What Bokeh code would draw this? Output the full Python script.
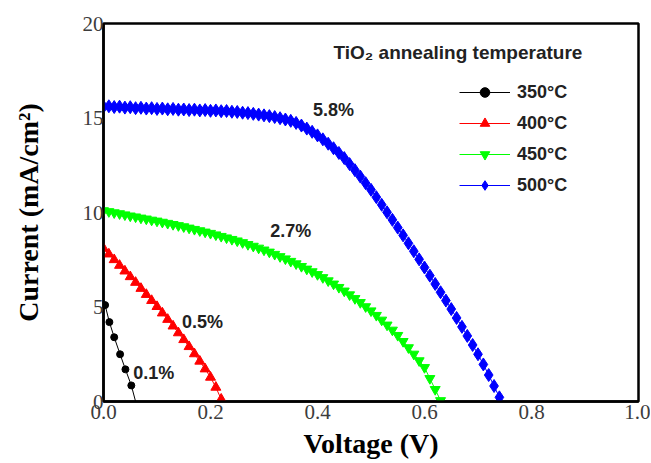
from bokeh.plotting import figure
from bokeh.models import (Range1d, FixedTicker, PrintfTickFormatter, Legend,
                          LegendItem, Label, ColumnDataSource)
from bokeh.embed import file_html
from bokeh.resources import INLINE

# ---------------- data ----------------
v_350 = [0.003, 0.011, 0.020, 0.031, 0.041, 0.052, 0.060]
j_350 = [5.10, 4.20, 3.40, 2.50, 1.70, 0.85, 0.00]

v_400 = [0.00, 0.01, 0.02, 0.03, 0.04, 0.05, 0.06, 0.07, 0.08, 0.09, 0.10,
         0.11, 0.12, 0.13, 0.14, 0.15, 0.16, 0.17, 0.18, 0.19, 0.20, 0.21, 0.22]
j_400 = [8.10, 7.80, 7.50, 7.20, 6.90, 6.60, 6.30, 5.98, 5.66, 5.34, 5.02,
         4.68, 4.34, 3.99, 3.63, 3.27, 2.90, 2.52, 2.13, 1.72, 1.28, 0.75, 0.12]

v_450 = [0.00, 0.01, 0.02, 0.03, 0.04, 0.05, 0.06, 0.07, 0.08, 0.09, 0.10,
         0.11, 0.12, 0.13, 0.14, 0.15, 0.16, 0.17, 0.18, 0.19, 0.20,
         0.21, 0.22, 0.23, 0.24, 0.25, 0.26, 0.27, 0.28, 0.29, 0.30,
         0.31, 0.32, 0.33, 0.34, 0.35, 0.36, 0.37, 0.38, 0.39, 0.40,
         0.41, 0.42, 0.43, 0.44, 0.45, 0.46, 0.47, 0.48, 0.49, 0.50,
         0.51, 0.52, 0.53, 0.54, 0.55, 0.56, 0.57, 0.58, 0.59, 0.60,
         0.61, 0.62, 0.63]
j_450 = [10.10, 10.05, 9.99, 9.94, 9.88, 9.82, 9.77, 9.71, 9.66, 9.60, 9.55,
         9.49, 9.43, 9.37, 9.31, 9.25, 9.18, 9.11, 9.04, 8.97, 8.90,
         8.82, 8.74, 8.66, 8.58, 8.50, 8.41, 8.31, 8.22, 8.12, 8.02,
         7.91, 7.79, 7.67, 7.55, 7.42, 7.29, 7.15, 7.01, 6.87, 6.72,
         6.56, 6.39, 6.22, 6.04, 5.85, 5.65, 5.45, 5.24, 5.02, 4.80,
         4.56, 4.31, 4.05, 3.78, 3.50, 3.18, 2.85, 2.51, 2.16, 1.80,
         1.22, 0.64, 0.05]

v_500 = [0.00, 0.01, 0.02, 0.03, 0.04, 0.05, 0.06, 0.07, 0.08, 0.09, 0.10,
         0.11, 0.12, 0.13, 0.14, 0.15, 0.16, 0.17, 0.18, 0.19, 0.20,
         0.21, 0.22, 0.23, 0.24, 0.25, 0.26, 0.27, 0.28, 0.29, 0.30,
         0.31, 0.32, 0.33, 0.34, 0.35, 0.36, 0.37, 0.38, 0.39, 0.40,
         0.41, 0.42, 0.43, 0.44, 0.45, 0.46, 0.47, 0.48, 0.49, 0.50,
         0.51, 0.52, 0.53, 0.54, 0.55, 0.56, 0.57, 0.58, 0.59, 0.60,
         0.61, 0.62, 0.63, 0.64, 0.65, 0.66, 0.67, 0.68, 0.69, 0.70,
         0.71, 0.72, 0.73, 0.74]
j_500 = [15.60, 15.62, 15.58, 15.60, 15.55, 15.57, 15.52, 15.54, 15.50, 15.52, 15.48,
         15.50, 15.46, 15.48, 15.44, 15.45, 15.42, 15.44, 15.40, 15.42, 15.38,
         15.40, 15.36, 15.37, 15.33, 15.32, 15.28, 15.26, 15.22, 15.18, 15.14,
         15.10, 15.05, 14.99, 14.92, 14.85, 14.74, 14.60, 14.44, 14.27, 14.08,
         13.87, 13.64, 13.40, 13.15, 12.88, 12.56, 12.24, 11.90, 11.55, 11.20,
         10.81, 10.41, 10.01, 9.61, 9.20, 8.79, 8.37, 7.95, 7.52, 7.09,
         6.66, 6.22, 5.78, 5.34, 4.89, 4.42, 3.95, 3.47, 2.99, 2.50,
         1.96, 1.40, 0.82, 0.22]

series_labels = ["350°C", "400°C", "450°C", "500°C"]
efficiency_labels = ["0.1%", "0.5%", "2.7%", "5.8%"]
efficiency_x = [0.094, 0.185, 0.35, 0.43]
efficiency_y = [1.5, 4.2, 9.0, 15.4]
x_ticks = [0.0, 0.2, 0.4, 0.6, 0.8, 1.0]
y_ticks = [0, 5, 10, 15, 20]
legend_title = "TiO₂ annealing temperature"

# ---------------- figure ----------------
p = figure(width=650, height=462, output_backend="svg", toolbar_location=None,
           x_range=Range1d(0, 1.0), y_range=Range1d(0, 20),
           min_border_left=103, min_border_top=23, min_border_right=12,
           min_border_bottom=61)
p.grid.visible = False
p.outline_line_color = "black"
p.outline_line_width = 2.5
p.background_fill_color = "white"
p.border_fill_color = "white"

for ax in (p.xaxis[0], p.yaxis[0]):
    ax.axis_line_color = "black"
    ax.axis_line_width = 2.5
    ax.major_tick_line_color = None
    ax.minor_tick_line_color = None
    ax.major_tick_out = 0
    ax.major_tick_in = 0
    ax.major_label_text_font = "Liberation Serif"
    ax.major_label_text_font_size = "21px"
    ax.major_label_text_color = "#3c3c3c"
    ax.axis_label_text_font = "Liberation Serif"
    ax.axis_label_text_font_style = "bold"
    ax.axis_label_text_font_size = "28px"
    ax.axis_label_text_color = "black"

p.xaxis[0].ticker = FixedTicker(ticks=x_ticks)
p.xaxis[0].formatter = PrintfTickFormatter(format="%.1f")
p.yaxis[0].ticker = FixedTicker(ticks=y_ticks)
p.xaxis[0].axis_label = "Voltage (V)"
p.yaxis[0].axis_label = "Current (mA/cm²)"
p.xaxis[0].major_label_standoff = 3
p.yaxis[0].major_label_standoff = 0
p.xaxis[0].axis_label_standoff = 6
p.yaxis[0].axis_label_standoff = 36

# ---------------- series ----------------
s350 = ColumnDataSource(dict(v=v_350, j=j_350))
s350m = ColumnDataSource(dict(v=v_350[:-1], j=j_350[:-1]))
s400 = ColumnDataSource(dict(v=v_400, j=j_400))
s450 = ColumnDataSource(dict(v=v_450, j=j_450))
s500 = ColumnDataSource(dict(v=v_500, j=j_500))

l1 = p.line("v", "j", source=s350, line_color="black", line_width=1)
m1 = p.scatter("v", "j", source=s350m, marker="circle", size=7,
               fill_color="black", line_color="black")
l2 = p.line("v", "j", source=s400, line_color="#ff0000", line_width=1)
m2 = p.scatter("v", "j", source=s400, marker="triangle", size=10,
               fill_color="#ff0000", line_color="#ff0000")
l3 = p.line("v", "j", source=s450, line_color="#00ff00", line_width=1)
m3 = p.scatter("v", "j", source=s450, marker="inverted_triangle", size=10,
               fill_color="#00ff00", line_color="#00ff00")
l4 = p.line("v", "j", source=s500, line_color="#0000ff", line_width=1)
m4 = p.scatter("v", "j", source=s500, marker="diamond", size=13,
               fill_color="#0000ff", line_color="#0000ff")

# ---------------- annotations ----------------
for txt, x, y in zip(efficiency_labels, efficiency_x, efficiency_y):
    p.add_layout(Label(x=x, y=y, text=txt, text_align="center",
                       text_baseline="middle", text_font="Liberation Sans",
                       text_font_style="bold", text_font_size="18px",
                       text_color="#222222"))

p.add_layout(Label(x=0.43, y=18.45, text=legend_title, text_align="left",
                   text_baseline="middle", text_font="Liberation Sans",
                   text_font_style="bold", text_font_size="19px",
                   text_color="#222222"))

legend = Legend(items=[LegendItem(label=series_labels[0], renderers=[l1, m1]),
                       LegendItem(label=series_labels[1], renderers=[l2, m2]),
                       LegendItem(label=series_labels[2], renderers=[l3, m3]),
                       LegendItem(label=series_labels[3], renderers=[l4, m4])],
                location=(356, 204), padding=0, margin=0, spacing=7,
                glyph_width=51, glyph_height=24, label_height=24,
                label_standoff=7, border_line_color=None,
                background_fill_alpha=0,
                label_text_font="Liberation Sans",
                label_text_font_style="bold", label_text_font_size="18px",
                label_text_color="#222222")
p.add_layout(legend)

open("out.html", "w").write(file_html(p, INLINE))
